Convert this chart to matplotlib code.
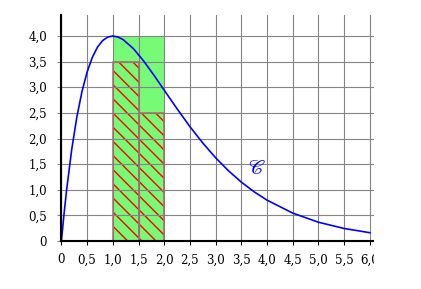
import matplotlib.pyplot as plt
from matplotlib.patches import Rectangle

plt.rcParams["font.family"] = "DejaVu Serif"
plt.rcParams["mathtext.fontset"] = "stix"
plt.rcParams["hatch.linewidth"] = 1.2

# curve C
curve_x = [0, 0.05, 0.1, 0.2, 0.3, 0.4, 0.5, 0.6, 0.7, 0.8, 0.9, 1.0, 1.1, 1.2,
           1.4, 1.6, 1.8, 2.0, 2.25, 2.5, 2.75, 3.0, 3.25, 3.5, 3.75, 4.0,
           4.5, 5.0, 5.5, 6.0]
curve_y = [0, 0.517, 0.984, 1.780, 2.417, 2.915, 3.297, 3.580, 3.780, 3.909,
           3.979, 4.0, 3.981, 3.930, 3.754, 3.512, 3.235, 2.943, 2.579, 2.231,
           1.912, 1.624, 1.370, 1.149, 0.959, 0.797, 0.544, 0.366, 0.244, 0.162]

# green rectangle and hatched steps
green_left, green_width, green_height = 1.0, 1.0, 4.0
step_left = [1.0, 1.5]
step_width = 0.5
step_height = [3.5, 2.5]

ticks = [0, 0.5, 1, 1.5, 2, 2.5, 3, 3.5, 4, 4.5, 5, 5.5, 6]
ytick_vals = [0, 0.5, 1, 1.5, 2, 2.5, 3, 3.5, 4]


def lab(v):
    return "0" if v == 0 else f"{v:.1f}".replace(".", ",")


DPI = 85
fig = plt.figure(figsize=(421 / DPI, 289 / DPI), dpi=DPI)
ax = fig.add_axes([61.4 / 421, 48 / 289, (374 - 61.4) / 421, (241 - 15) / 289])

ax.set_xlim(0, 6.08)
ax.set_ylim(0, 4.41)

ax.set_axisbelow("line")
ax.grid(True, color="#858585", linewidth=0.95)

ax.add_patch(Rectangle((green_left, 0), green_width, green_height,
                       facecolor="#77fb77", edgecolor="none", zorder=1))
ax.bar(step_left, step_height, width=step_width, align="edge",
       facecolor="none", edgecolor="#ff0000", linewidth=0, hatch="\\\\",
       zorder=1.1)
ax.bar(step_left, step_height, width=step_width, align="edge",
       facecolor="none", edgecolor="#a86a6a", linewidth=1.3, zorder=1.7)

ax.plot(curve_x, curve_y, color="#0000ff", linewidth=1.4, zorder=2)
ax.text(3.8, 1.42, r"$\mathscr{C}$", color="#0000ff", fontsize=17,
        ha="center", va="center")

ax.set_xticks(ticks)
ax.set_xticklabels([lab(v) for v in ticks], fontsize=10)
ax.set_yticks(ytick_vals)
ax.set_yticklabels([lab(v) for v in ytick_vals], fontsize=10)

ax.tick_params(axis="x", direction="out", length=3.5, width=0.9,
               color="black", pad=7)
ax.tick_params(axis="y", direction="out", length=3.5, width=0.9,
               color="#858585", pad=8.5)

for s in ("top", "right"):
    ax.spines[s].set_visible(False)
ax.spines["left"].set_linewidth(1.8)
ax.spines["bottom"].set_linewidth(1.8)

# the picture is cut off at the right
fig.patches.append(Rectangle((374 / 421, 0), 1, 1, transform=fig.transFigure,
                             facecolor="white", edgecolor="none", zorder=10))

fig.savefig("out.png", dpi=DPI)
